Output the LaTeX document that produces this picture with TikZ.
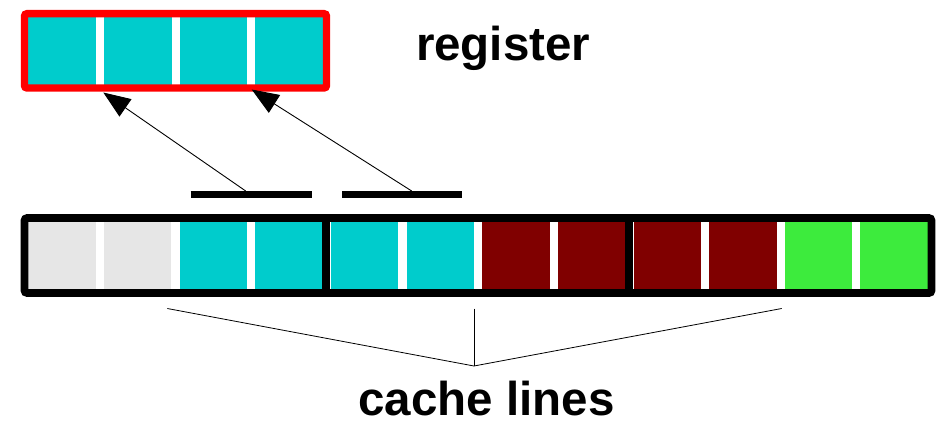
\documentclass[tikz,border=0pt]{standalone}
\usepackage{fontspec}
\setmainfont{Liberation Sans}
\usetikzlibrary{arrows.meta}

\definecolor{cellcyan}{RGB}{0,204,204}
\definecolor{cellgray}{RGB}{230,230,230}
\definecolor{cellmaroon}{RGB}{128,0,0}
\definecolor{cellgreen}{RGB}{61,235,61}
\definecolor{regred}{RGB}{255,0,0}

\tikzset{
  cellbox/.style={rectangle, inner sep=0pt, outer sep=0pt, draw=none,
    minimum width=67.5pt, minimum height=67.2pt, anchor=north west},
  regframe/.style={draw=regred, line width=7.4pt, rounded corners=2.5pt},
  lineframe/.style={draw=black, line width=7.6pt, rounded corners=2.5pt},
  divider/.style={draw=black, line width=8pt},
  wordbar/.style={draw=black, line width=7.3pt},
  loadarrow/.style={draw=black, line width=0.9pt,
    -{Triangle[length=27pt,width=21pt]}},
  brace/.style={draw=black, line width=0.8pt},
  lbl/.style={inner sep=0pt, outer sep=0pt, anchor=base west,
    font=\fontsize{47.5}{47.5}\selectfont\bfseries}
}

\begin{document}
\begin{tikzpicture}[x=1pt, y=-1pt]
\useasboundingbox (0,0) rectangle (936,420);

% register: four cyan words in a red frame
\foreach \i in {1,...,4} {
  \node[cellbox, fill=cellcyan] (r\i) at ({28.3+75.7*(\i-1)},17.3) {};
}
\draw[regframe] (24.5,13.7) rectangle (326.5,88);

% three cache lines of four words each
\foreach \i/\c in {1/cellgray,2/cellgray,3/cellcyan,4/cellcyan,
                   5/cellcyan,6/cellcyan,7/cellmaroon,8/cellmaroon,
                   9/cellmaroon,10/cellmaroon,11/cellgreen,12/cellgreen} {
  \node[cellbox, fill=\c] (c\i) at ({28.3+75.65*(\i-1)},222) {};
}
\draw[lineframe] (24.5,218) rectangle (931.5,293);
\draw[divider] (326.3,218) -- (326.3,293);
\draw[divider] (628.5,218) -- (628.5,293);

% the two word pairs that are loaded
\coordinate (b1w) at (190.7,194.7);
\coordinate (b1e) at (311.7,194.7);
\coordinate (b2w) at (342.3,194.7);
\coordinate (b2e) at (462.3,194.7);
\draw[wordbar] (b1w) -- (b1e);
\draw[wordbar] (b2w) -- (b2e);

% loads into the register
\coordinate (s1) at (245.7,191);
\coordinate (t1) at (103.3,92.5);
\coordinate (s2) at (411.7,191);
\coordinate (t2) at (251.7,89.5);
\draw[loadarrow] (s1) -- (t1);
\draw[loadarrow] (s2) -- (t2);

% lines gathering the cache lines to one label
\coordinate (gl) at (167.3,308.5);
\coordinate (gm) at (474,308.5);
\coordinate (gr) at (781.7,308.5);
\coordinate (gv) at (474,366);
\draw[brace] (gl) -- (gv) -- (gr);
\draw[brace] (gm) -- (gv);

% labels
\node[lbl] (regtext) at (416,60) {register};
\node[lbl, text depth=0pt] (cltext) at (358.5,415) {cache lines};
\end{tikzpicture}
\end{document}
